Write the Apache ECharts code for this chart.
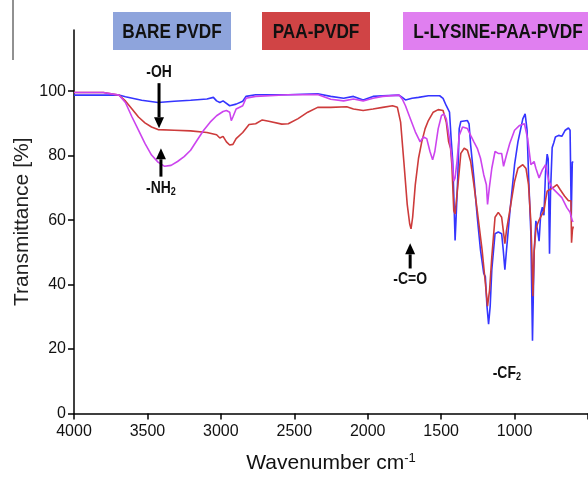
<!DOCTYPE html>
<html><head><meta charset="utf-8">
<script src="https://cdn.jsdelivr.net/npm/echarts@6/dist/echarts.min.js"></script>
<style>html,body{margin:0;padding:0;background:#fff}#c{width:588px;height:479px}</style>
</head><body><div id="c"></div>
<script>
// tick labels
const xTicks = [4000, 3500, 3000, 2500, 2000, 1500, 1000];
const yTicks = [0, 20, 40, 60, 80, 100];
const seriesNames = ['BARE PVDF', 'PAA-PVDF', 'L-LYSINE-PAA-PVDF'];

// [wavenumber, transmittance]
const bareData = [
[4000,98.8],[3694,98.8],[3650,98.3],[3539,97.2],[3428,96.5],[3317,96.9],[3206,97.2],[3095,97.6],[3051,98.1],[3029,97.0],[3007,96.5],[2985,97.0],[2940,95.5],[2896,96.0],[2851,96.9],[2829,98.4],[2763,98.9],[2541,98.9],[2341,99.2],[2252,98.4],[2164,97.8],[2097,98.4],[2031,97.3],[1964,98.4],[1898,98.6],[1787,98.8],[1765,98.1],[1743,97.3],[1698,97.8],[1654,98.1],[1587,98.6],[1543,98.6],[1510,98.6],[1487,97.8],[1465,95.5],[1443,93.5],[1432,85.3],[1421,78.2],[1414,68.0],[1405,53.7],[1399,59.8],[1387,73.1],[1377,88.4],[1366,90.6],[1321,90.9],[1310,89.9],[1299,83.3],[1277,73.1],[1254,60.9],[1232,50.7],[1210,43.5],[1199,42.5],[1188,33.3],[1177,27.7],[1166,33.3],[1155,44.6],[1133,55.8],[1111,56.3],[1088,55.8],[1077,50.7],[1066,44.6],[1055,50.7],[1033,62.0],[1000,77.2],[977,84.3],[944,91.4],[928,93.0],[915,88],[904,73.1],[889,55.8],[878,22.6],[867,50.0],[855,59.8],[844,57.0],[833,53.5],[822,62.0],[811,64.0],[800,61.5],[789,75.0],[778,80.5],[771,79.0],[762,49.6],[755,69.0],[744,82.5],[733,84.0],[722,85.8],[700,86.3],[678,86.0],[655,87.9],[633,88.6],[622,87.9],[614,61.0],[607,78.0],[600,78.0]
];
const paaData = [
[4000,99.6],[3800,99.6],[3694,98.8],[3650,97.0],[3605,94.5],[3561,92.0],[3517,90.2],[3472,88.9],[3428,88.1],[3317,87.9],[3206,87.7],[3095,87.2],[3029,86.5],[3007,85.5],[2985,86.0],[2962,84.3],[2940,83.3],[2918,83.5],[2896,85.3],[2851,87.2],[2808,89.7],[2763,89.9],[2718,91.1],[2674,90.7],[2585,89.8],[2541,89.9],[2474,91.5],[2408,93.5],[2341,95.0],[2252,95.0],[2143,95.2],[2097,94.5],[2031,94.0],[1964,94.5],[1898,95.0],[1831,95.5],[1798,95.0],[1776,90.4],[1754,78.2],[1731,64.9],[1714,58.8],[1705,57.3],[1694,60.9],[1676,71.0],[1654,79.2],[1632,84.3],[1609,88.4],[1587,90.9],[1554,93.5],[1520,94.3],[1487,94.0],[1465,90.4],[1449,84.3],[1436,82.3],[1427,77.2],[1414,62.9],[1405,61.9],[1392,68.0],[1377,75.1],[1366,80.7],[1343,82.3],[1321,81.7],[1299,78.2],[1277,71.0],[1254,62.9],[1221,50.7],[1199,40.5],[1184,33.3],[1170,38.4],[1155,48.6],[1133,60.9],[1111,62.4],[1088,60.9],[1077,56.8],[1066,52.7],[1055,56.8],[1033,62.9],[1000,72.0],[977,76.1],[944,77.2],[922,76.0],[905,71.0],[890,60.0],[882,49.6],[875,36.4],[866,50.7],[855,57.0],[844,58.8],[833,60.0],[822,61.0],[800,62.9],[790,66.0],[778,69.0],[760,69.5],[740,70.0],[711,71.0],[690,69.5],[660,67.5],[633,66.0],[616,66.0],[612,53.0],[606,57.0],[600,58.0]
];
const lysData = [
[4000,99.6],[3800,99.6],[3694,98.8],[3650,96.5],[3605,92.0],[3561,87.9],[3517,83.8],[3472,80.2],[3428,78.0],[3383,76.7],[3339,77.0],[3295,78.2],[3250,79.7],[3206,81.7],[3162,84.8],[3117,87.9],[3073,90.4],[3029,92.4],[2985,93.7],[2962,94.0],[2940,93.5],[2929,90.9],[2918,92.0],[2896,94.5],[2851,95.5],[2829,97.8],[2763,98.4],[2541,98.9],[2341,99.0],[2252,97.5],[2164,97.0],[2097,97.6],[2031,97.0],[1964,97.8],[1898,98.4],[1787,98.8],[1765,97.6],[1743,95.5],[1709,91.4],[1676,87.4],[1643,84.3],[1620,85.8],[1598,85.3],[1576,81.3],[1558,78.7],[1543,81.3],[1520,88.4],[1498,92.4],[1481,93.0],[1465,91.4],[1443,85.3],[1427,79.2],[1414,72.1],[1405,73.1],[1392,78.2],[1377,86.3],[1354,88.9],[1321,88.4],[1299,86.3],[1277,84.3],[1254,82.3],[1232,79.2],[1210,74.1],[1192,71.0],[1184,64.9],[1172,70.0],[1155,76.1],[1133,81.3],[1111,80.7],[1088,80.7],[1075,76.7],[1055,80.2],[1033,83.8],[1000,87.9],[966,89.4],[933,89.9],[911,85.3],[889,77.2],[867,78.2],[855,76.1],[833,73.1],[811,75.6],[789,77.2],[767,72.1],[744,70.0],[722,69.0],[678,67.0],[644,63.9],[622,62.4],[607,59.8],[600,59.5]
];

// annotations: [text, wavenumber, transmittance]
const labelNotes = [
  ['-OH', 3421, 105.8],
  ['-NH{sub|2}', 3408, 70.0],
  ['-C=O', 1711, 41.6],
  ['-CF{sub|2}', 1053, 12.5]
];
// arrows: [wavenumber, T from, T to (tip)]
const arrowNotes = [
  [3421, 102.5, 88.5],
  [3408, 73.5, 82.3],
  [1711, 45.0, 52.8]
];

const colors = ['#3535ff', '#cd3b3b', '#cc44ee'];
const boxColors = ['#8ea4dc', '#d04445', '#e07ff0'];
const sans = '"Liberation Sans",Arial,sans-serif';

const chart = echarts.init(document.getElementById('c'), null, {renderer: 'canvas'});
const option = {
  animation: false,
  backgroundColor: '#fff',
  grid: {left: 74, top: 30, width: 526, height: 389, containLabel: false},
  xAxis: {
    type: 'value', inverse: true, min: 500, max: 4000, interval: 500,
    axisLine: {show: true, onZero: false, lineStyle: {color: '#000', width: 1.5}},
    axisTick: {show: true, length: 6, lineStyle: {color: '#000', width: 1.5}},
    axisLabel: {color: '#111', fontSize: 16, fontFamily: sans, margin: 10,
      customValues: xTicks, formatter: v => String(v)},
    splitLine: {show: false},
    name: 'Wavenumber cm{sup|-1}', nameLocation: 'middle', nameGap: 38, nameMoveOverlap: false,
    nameTextStyle: {color: '#111', fontSize: 21, fontFamily: sans,
      rich: {sup: {fontSize: 13, verticalAlign: 'top', padding: [0,0,11,0], color: '#111', fontFamily: sans}}}
  },
  yAxis: {
    type: 'value', min: 0, max: 119, interval: 20,
    axisLine: {show: true, lineStyle: {color: '#000', width: 1.5}},
    axisTick: {show: true, length: 6, lineStyle: {color: '#000', width: 1.5}, customValues: yTicks},
    axisLabel: {color: '#111', fontSize: 16, fontFamily: sans, margin: 8, customValues: yTicks},
    splitLine: {show: false},
    name: 'Transmittance [%]', nameLocation: 'middle', nameGap: 41, nameMoveOverlap: false,
    nameTextStyle: {color: '#222', fontSize: 21, fontFamily: sans}
  },
  series: [
    {name: seriesNames[0], type: 'line', data: bareData, showSymbol: false, symbol: 'none', z: 2,
      lineStyle: {color: colors[0], width: 1.6}},
    {name: seriesNames[1], type: 'line', data: paaData, showSymbol: false, symbol: 'none', z: 3,
      lineStyle: {color: colors[1], width: 1.6}},
    {name: seriesNames[2], type: 'line', data: lysData, showSymbol: false, symbol: 'none', z: 4,
      lineStyle: {color: colors[2], width: 1.6}}
  ]
};
chart.setOption(option);

// legend boxes
const boxes = [[113, 118], [262, 108], [403, 190]];
const graphics = [];
graphics.push({type: 'line', shape: {x1: 13, y1: 0, x2: 13, y2: 60}, style: {stroke: '#222', lineWidth: 1}, z: 10});
boxes.forEach((b, i) => {
  graphics.push({type: 'rect', shape: {x: b[0], y: 12, width: b[1], height: 38}, style: {fill: boxColors[i]}, z: 10});
  graphics.push({type: 'text', x: b[0] + b[1] / 2, y: 32, scaleX: 0.82, z: 11,
    style: {text: seriesNames[i], fill: '#111', font: 'bold 21px ' + sans, align: 'center', verticalAlign: 'middle'}});
});
labelNotes.forEach(n => {
  const p = chart.convertToPixel({gridIndex: 0}, [n[1], n[2]]);
  graphics.push({type: 'text', x: p[0], y: p[1], scaleX: 0.82, z: 11,
    style: {text: n[0], fill: '#111', font: 'bold 17px ' + sans, align: 'center', verticalAlign: 'middle',
      rich: {sub: {font: 'bold 11px ' + sans, verticalAlign: 'bottom', padding: [8, 0, 0, 0], fill: '#111'}}}});
});
arrowNotes.forEach(a => {
  const p0 = chart.convertToPixel({gridIndex: 0}, [a[0], a[1]]);
  const p1 = chart.convertToPixel({gridIndex: 0}, [a[0], a[2]]);
  const dir = p1[1] > p0[1] ? 1 : -1;
  const base = p1[1] - dir * 11;
  graphics.push({type: 'line', shape: {x1: p0[0], y1: p0[1], x2: p0[0], y2: base}, style: {stroke: '#000', lineWidth: 3}, z: 11});
  graphics.push({type: 'polygon', shape: {points: [[p1[0] - 5, base], [p1[0] + 5, base], [p1[0], p1[1]]]}, style: {fill: '#000'}, z: 11});
});
chart.setOption({graphic: graphics});
</script>
</body></html>
